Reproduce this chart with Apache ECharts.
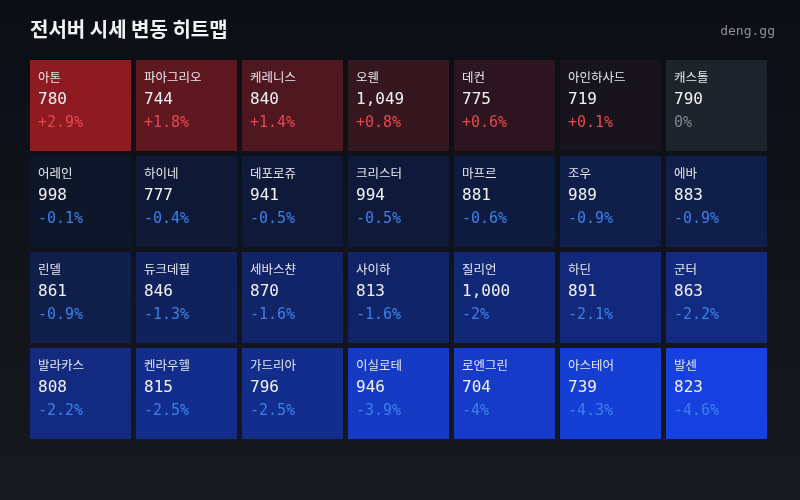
<!DOCTYPE html>
<html>
<head>
<meta charset="utf-8">
<script src="https://cdn.jsdelivr.net/npm/echarts@6/dist/echarts.min.js"></script>
<style>
  html, body { margin: 0; padding: 0; background: #0f1219; }
  #main { width: 800px; height: 500px; }
</style>
</head>
<body>
<div id="main"></div>
<script>
var COLS = 7;
var names = ['아톤', '파아그리오', '케레니스', '오웬', '데컨', '아인하사드', '캐스톨',
    '어레인', '하이네', '데포로쥬', '크리스터', '마프르', '조우', '에바',
    '린델', '듀크데필', '세바스챤', '사이하', '질리언', '하딘', '군터',
    '발라카스', '켄라우헬', '가드리아', '이실로테', '로엔그린', '아스테어', '발센'];
var prices = [780, 744, 840, 1049, 775, 719, 790,
    998, 777, 941, 994, 881, 989, 883,
    861, 846, 870, 813, 1000, 891, 863,
    808, 815, 796, 946, 704, 739, 823];
var changes = [2.9, 1.8, 1.4, 0.8, 0.6, 0.1, 0,
    -0.1, -0.4, -0.5, -0.5, -0.6, -0.9, -0.9,
    -0.9, -1.3, -1.6, -1.6, -2, -2.1, -2.2,
    -2.2, -2.5, -2.5, -3.9, -4, -4.3, -4.6];
var colLabels = ['1', '2', '3', '4', '5', '6', '7'];
var rowLabels = ['1', '2', '3', '4'];

var GAP = 5;
var MONO = '"DejaVu Sans Mono", monospace';
var SANS = '"Noto Sans CJK KR", "Noto Sans", sans-serif';

function mix(a, b, t) {
    t = Math.max(0, Math.min(1, t));
    var r = Math.round(a[0] + (b[0] - a[0]) * t);
    var g = Math.round(a[1] + (b[1] - a[1]) * t);
    var bl = Math.round(a[2] + (b[2] - a[2]) * t);
    return 'rgb(' + r + ',' + g + ',' + bl + ')';
}
// cell colour by change
function cellColor(p) {
    if (p > 0) return mix([20, 20, 30], [142, 26, 34], p / 2.9);
    if (p < 0) return mix([14, 21, 38], [22, 65, 224], -p / 4.6);
    return '#1e242b';
}
function pctColor(p) {
    if (p > 0) return '#e5484d';
    if (p < 0) return '#3b80ea';
    return '#7d848d';
}
function fmtPct(p) {
    if (p === 0) return '0%';
    return (p > 0 ? '+' : '') + p + '%';
}

var data = names.map(function (n, i) {
    return [i % COLS, Math.floor(i / COLS), changes[i], prices[i], n];
});

var chart = echarts.init(document.getElementById('main'));
var option = {
    backgroundColor: {
        type: 'linear', x: 0, y: 0, x2: 0, y2: 1,
        colorStops: [{offset: 0, color: '#0b0e15'}, {offset: 1, color: '#17191f'}]
    },
    animation: false,
    title: [{
        text: '전서버 시세 변동 히트맵',
        left: 25, top: 14,
        textStyle: {color: '#f2f3f5', fontSize: 20, fontWeight: 'bold', fontFamily: SANS}
    }, {
        text: 'deng.gg',
        right: 20, top: 20,
        textStyle: {color: '#8a8f98', fontSize: 13, fontWeight: 'normal', fontFamily: MONO}
    }],
    grid: {left: 30, right: 28, top: 60, bottom: 56},
    xAxis: {type: 'category', data: colLabels, show: false},
    yAxis: {type: 'category', data: rowLabels, inverse: true, show: false},
    series: [{
        type: 'custom',
        data: data,
        renderItem: function (params, api) {
            var c = api.coord([api.value(0), api.value(1)]);
            var s = api.size([1, 1]);
            var x0 = c[0] - s[0] / 2;
            var y0 = c[1] - s[1] / 2;
            var i = params.dataIndex;
            var p = changes[i];
            return {
                type: 'group',
                children: [{
                    type: 'rect',
                    shape: {x: x0, y: y0, width: s[0] - GAP, height: s[1] - GAP},
                    style: {fill: cellColor(p)}
                }, {
                    type: 'text',
                    style: {
                        x: x0 + 8, y: y0 + 17, text: names[i],
                        fill: '#e6e8ec', font: '12.5px ' + SANS, verticalAlign: 'middle'
                    }
                }, {
                    type: 'text',
                    style: {
                        x: x0 + 8, y: y0 + 40, text: prices[i].toLocaleString('en-US'),
                        fill: '#f2f3f5', font: '16px ' + MONO, verticalAlign: 'middle'
                    }
                }, {
                    type: 'text',
                    style: {
                        x: x0 + 8, y: y0 + 63, text: fmtPct(p),
                        fill: pctColor(p), font: '15px ' + MONO, verticalAlign: 'middle'
                    }
                }]
            };
        }
    }]
};
chart.setOption(option);
</script>
</body>
</html>
